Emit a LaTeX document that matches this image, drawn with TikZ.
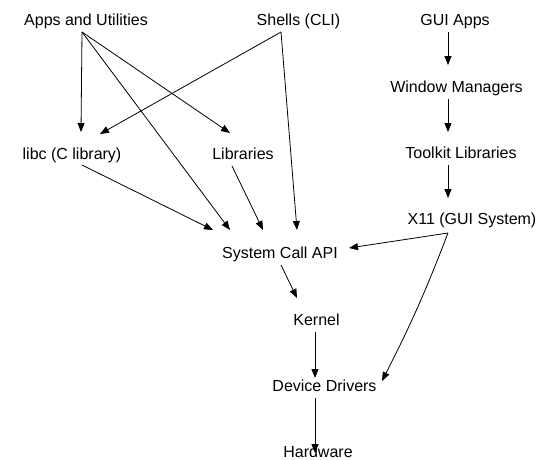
\documentclass[tikz,border=0pt]{standalone}
\usepackage{fontspec}
\setmainfont{Liberation Sans}
\usetikzlibrary{arrows.meta}
\tikzset{
  layer/.style={font=\fontsize{16}{19}\selectfont, text=black, inner sep=0pt, anchor=base},
  callarrow/.style={-{Triangle[length=9pt, width=7pt]}, line width=0.8pt, draw=black},
}

\begin{document}
\begin{tikzpicture}[x=1pt, y=-1pt]
    \useasboundingbox (0,0) rectangle (541,459);
    \node[layer] (apps) at (86,25) {Apps and Utilities};
    \node[layer] (shells) at (298.5,25) {Shells (CLI)};
    \node[layer] (guiapps) at (455,25) {GUI Apps};
    \node[layer] (wm) at (456.5,92) {Window Managers};
    \node[layer] (libc) at (72,159) {libc (C library)};
    \node[layer] (libs) at (243,159) {Libraries};
    \node[layer] (toolkit) at (461,158) {Toolkit Libraries};
    \node[layer] (x11) at (472,224) {X11 (GUI System)};
    \node[layer] (syscall) at (280,258) {System Call API};
    \node[layer] (kernel) at (316.5,325) {Kernel};
    \node[layer] (drivers) at (324.5,391) {Device Drivers};
    \node[layer] (hardware) at (318,457) {Hardware};
    \draw[callarrow] ([shift={(-4,7)}]apps.base) -- ([shift={(9,-27)}]libc.base);
    \draw[callarrow] ([shift={(-4,7)}]apps.base) -- ([shift={(-50,-28)}]syscall.base);
    \draw[callarrow] ([shift={(-4,7)}]apps.base) -- ([shift={(-13,-26)}]libs.base);
    \draw[callarrow] ([shift={(-17.5,7)}]shells.base) -- ([shift={(28,-25)}]libc.base);
    \draw[callarrow] ([shift={(-17.5,7)}]shells.base) -- ([shift={(17,-28)}]syscall.base);
    \draw[callarrow] ([shift={(10,6)}]libc.base) -- ([shift={(-67,-28)}]syscall.base);
    \draw[callarrow] ([shift={(-11,7)}]libs.base) -- ([shift={(-17,-28)}]syscall.base);
    \draw[callarrow] ([shift={(-7,7)}]guiapps.base) -- ([shift={(-8.5,-27)}]wm.base);
    \draw[callarrow] ([shift={(-8.5,7)}]wm.base) -- ([shift={(-13,-26)}]toolkit.base);
    \draw[callarrow] ([shift={(-13,7)}]toolkit.base) -- ([shift={(-24,-26)}]x11.base);
    \draw[callarrow] ([shift={(-24,9)}]x11.base) -- ([shift={(69,-10)}]syscall.base);
    \draw[callarrow] ([shift={(-24,9)}]x11.base) to[bend left=3] ([shift={(57.5,-10)}]drivers.base);
    \draw[callarrow] ([shift={(1,7)}]syscall.base) -- ([shift={(-19.5,-27)}]kernel.base);
    \draw[callarrow] ([shift={(-1.5,7)}]kernel.base) -- ([shift={(-9.5,-13)}]drivers.base);
    \draw[callarrow] ([shift={(-9.5,7)}]drivers.base) -- ([shift={(-3,-4)}]hardware.base);
\end{tikzpicture}
\end{document}
